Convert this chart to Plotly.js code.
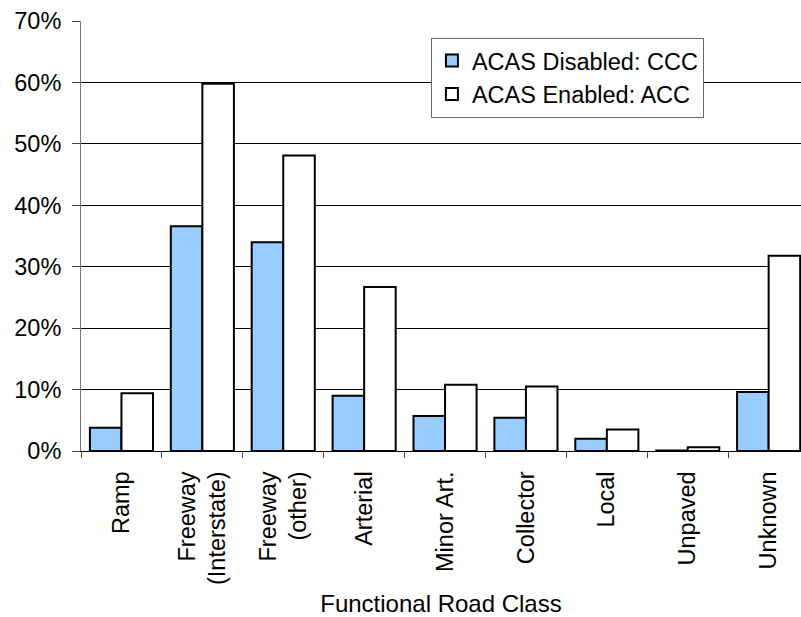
<!DOCTYPE html>
<html><head><meta charset="utf-8">
<script src="https://cdn.plot.ly/plotly-3.0.1.min.js"></script>
<style>body{margin:0;background:#fff}#chart{width:801px;height:617px}</style>
</head><body><div id="chart"></div>
<script>
const categories = ["Ramp", "Freeway<br>(Interstate)", "Freeway<br>(other)", "Arterial", "Minor Art.", "Collector", "Local", "Unpaved", "Unknown"];
const disabledCCC = [0.038, 0.366, 0.340, 0.090, 0.057, 0.054, 0.020, 0.001, 0.096];
const enabledACC = [0.094, 0.598, 0.481, 0.267, 0.108, 0.105, 0.035, 0.006, 0.318];
const seriesNames = ["ACAS Disabled: CCC", "ACAS Enabled: ACC"];
const yTicks = [0, 0.1, 0.2, 0.3, 0.4, 0.5, 0.6, 0.7];

const fam = "Liberation Sans, Arial, sans-serif";
const data = [
  {type: "bar", name: seriesNames[0], x: categories, y: disabledCCC,
   marker: {color: "#99CCFF", line: {color: "#000", width: 2}}},
  {type: "bar", name: seriesNames[1], x: categories, y: enabledACC,
   marker: {color: "#FFFFFF", line: {color: "#000", width: 2}}}
];
const layout = {
  width: 801, height: 617,
  margin: {l: 81, r: 0, t: 21, b: 166},
  paper_bgcolor: "#fff", plot_bgcolor: "#fff",
  font: {family: fam, size: 23.5, color: "#000"},
  barmode: "group", bargap: 0.22, bargroupgap: 0,
  showlegend: true,
  legend: {x: 0.486, y: 0.961, xanchor: "left", yanchor: "top",
    bgcolor: "#fff", bordercolor: "#666", borderwidth: 1,
    font: {family: fam, size: 23.5, color: "#000"},
    tracegroupgap: 0, itemwidth: 30},
  xaxis: {type: "category", range: [-0.5, 8.4], tickangle: -90,
    ticks: "outside", tickson: "boundaries", ticklen: 6, tickcolor: "#444",
    ticklabelstandoff: 10,
    showline: true, linecolor: "#000", linewidth: 1, showgrid: false,
    tickfont: {family: fam, size: 23.5, color: "#000"},
    title: {text: "Functional Road Class", font: {family: fam, size: 24, color: "#000"}, standoff: 12}},
  yaxis: {range: [0, 0.7], tickvals: yTicks, tickformat: ".0%",
    ticks: "outside", ticklen: 8, tickcolor: "#444",
    ticklabelstandoff: 6,
    showline: true, linecolor: "#777", linewidth: 1,
    showgrid: true, gridcolor: "#000", gridwidth: 1, zeroline: false,
    tickfont: {family: fam, size: 23.5, color: "#000"}}
};
Plotly.newPlot("chart", data, layout, {displayModeBar: false, staticPlot: true});
</script></body></html>
